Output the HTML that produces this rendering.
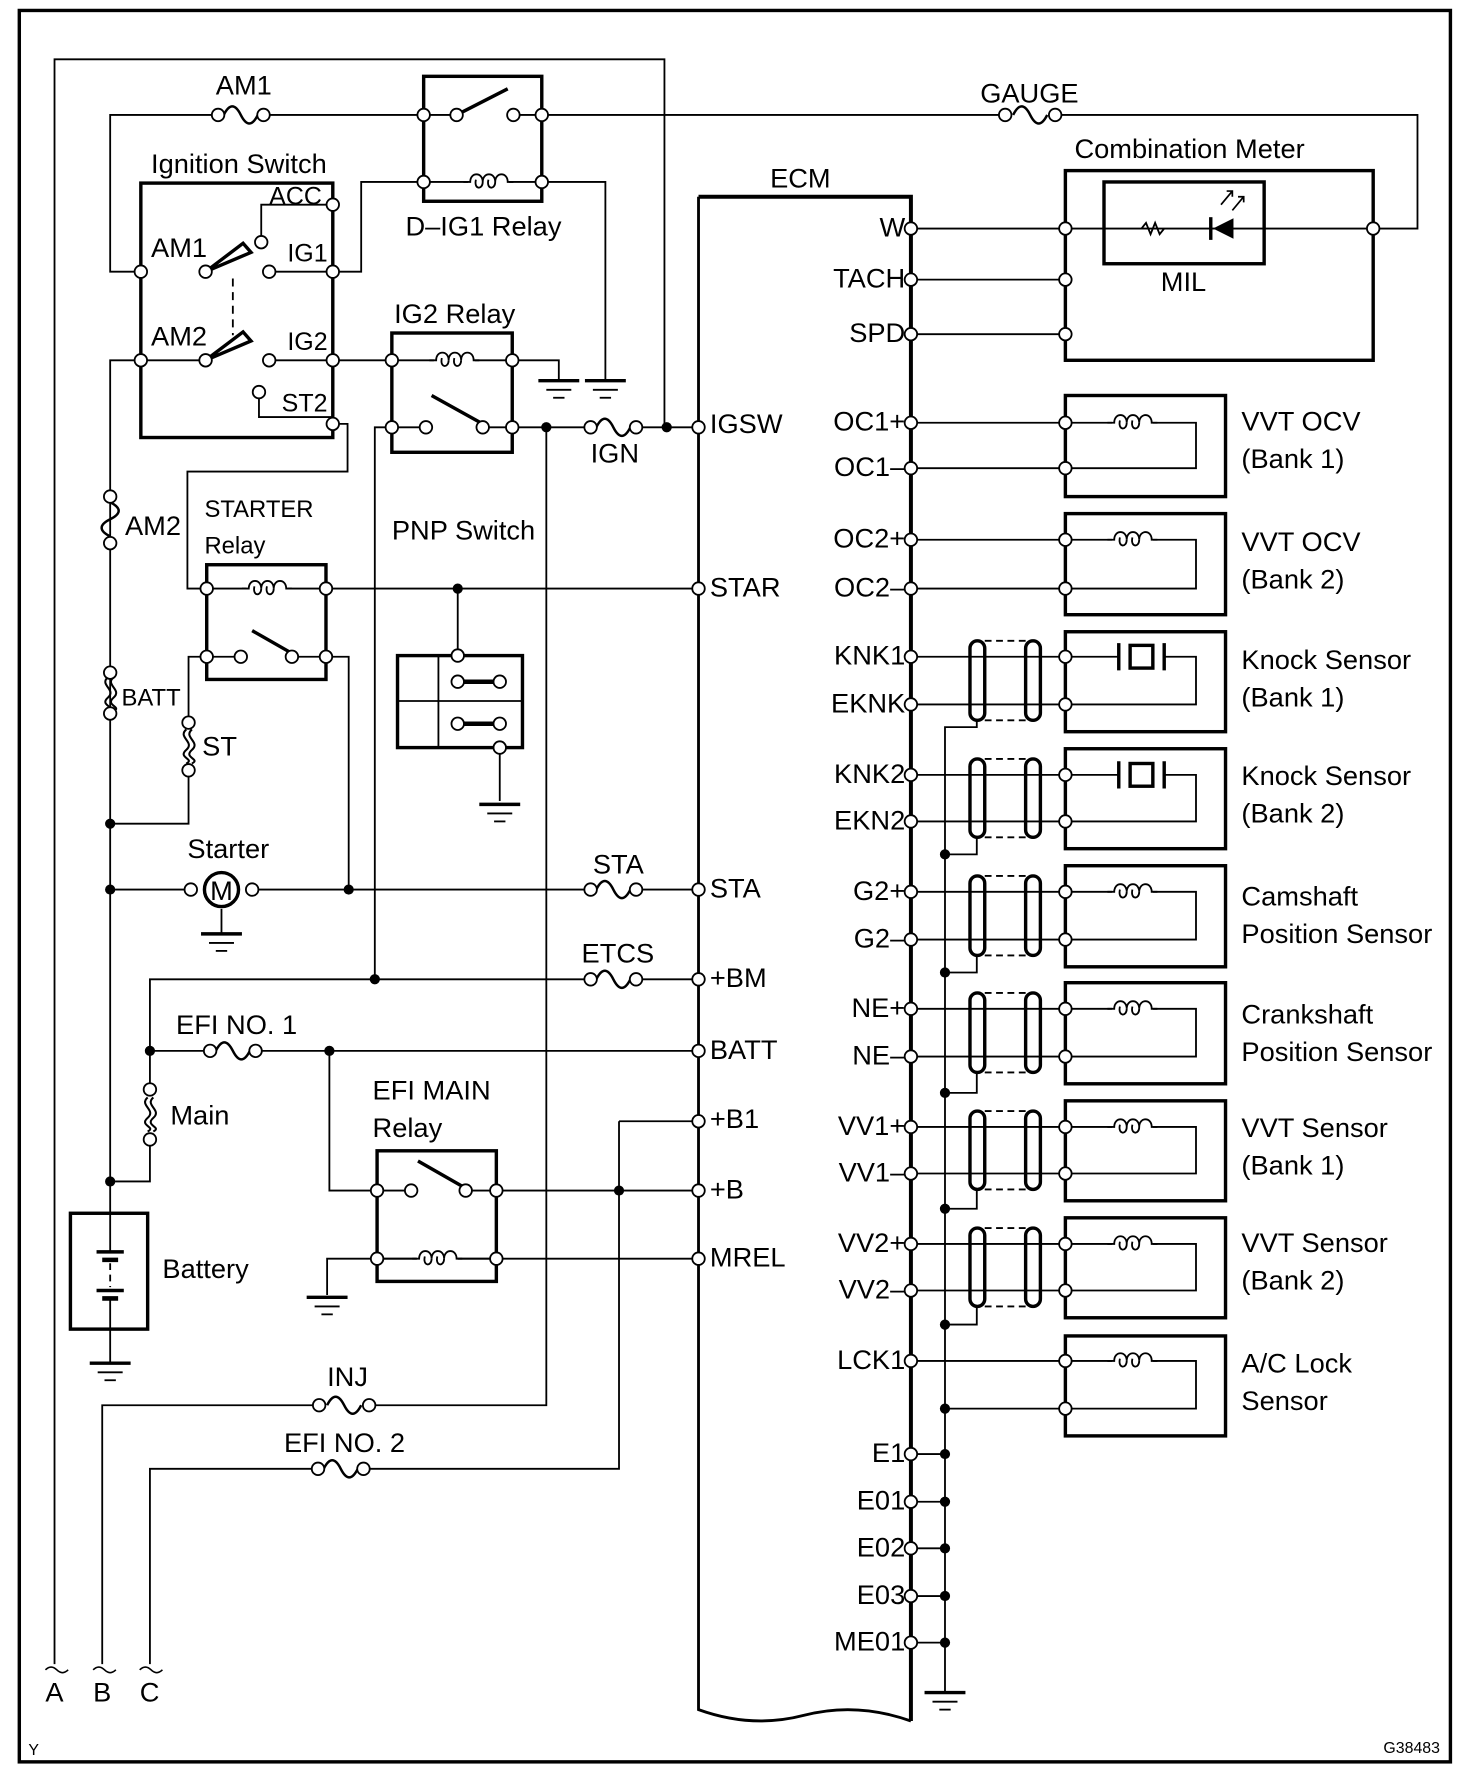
<!DOCTYPE html>
<html><head><meta charset="utf-8"><style>
html,body{margin:0;padding:0;background:#fff}
svg{display:block}
text{font-family:"Liberation Sans",sans-serif;font-size:24px;fill:#000}
</style></head><body>
<svg width="1472" height="1778" viewBox="0 0 1296 1565" xmlns="http://www.w3.org/2000/svg">
<defs>
<circle id="t" cx="0" cy="0" r="5.5" fill="#fff" stroke="#000" stroke-width="1.6"/>
<circle id="d" cx="0" cy="0" r="4.5" fill="#000"/>
<g id="fz"><path d="M-15 0 C-10 -10 -5 -10 0 0 S10 10 15 0" fill="none" stroke="#000" stroke-width="2.2"/></g>
<g id="coil" fill="#fff" stroke="#000" stroke-width="1.6"><rect x="-18" y="-7" width="36" height="13" stroke="none"/><path d="M-22 0 H-16 C-16 -9 -5 -9 -5 0 C-5 -9 6 -9 6 0 C6 -9 17 -9 17 0 H22" fill="none"/><path d="M-5 0 C-5 7 -13 7 -11 -2 M6 0 C6 7 -2 7 0 -2" fill="none"/></g>
<g id="gnd" stroke="#000"><path d="M-18 0 H18" stroke-width="3"/><path d="M-11 8 H11" stroke-width="1.6"/><path d="M-5 15 H5" stroke-width="1.6"/></g>
<g id="fl" fill="none" stroke="#000" stroke-width="1.8"><path d="M-2 -14 C-10 -7 6 -3 -2 4 S6 12 -2 16"/><path d="M3 -14 C-5 -7 11 -3 3 4 S11 12 3 16"/></g>
</defs>
<rect x="17" y="9" width="1260" height="1542" fill="none" stroke="#000" stroke-width="3"/>
<g fill="none" stroke="#000" stroke-width="1.6">
<path d="M48 1465 V52 H585 V376"/>
<path d="M124 239 H97 V101 H192 M232 101 H373"/>
<path d="M477 101 H885 M929 101 H1248 V201 H1209"/>
<path d="M373 160 H318 V239 H293 M477 160 H533 V335"/>
<path d="M230 213 V180 H293 M237 239 H293 M237 317 H345 M124 317 H181 M124 317 H97 V1040"/>
<path d="M228 345 V367 H293 M293 373 H306 V415 H165 V518 H182"/>
<path d="M345 317 H451 M451 317 H492 V335"/>
<path d="M345 376 H375 M425 376 H520 M560 376 H615"/>
<path d="M345 376 H330 V862"/>
<path d="M481 376 V1237 H325 M281 1237 H90 V1465"/>
<path d="M182 518 H615 M403 518 V577"/>
<path d="M182 578 H212 M257 578 H307 V783"/>
<path d="M182 578 H166 V632 M166 680 V725 H97"/>
<path d="M440 658 V705"/>
<path d="M97 783 H165 M225 783 H520 M560 783 H615 M195 800 V822"/>
<path d="M97 1040 H132 V1005 M132 955 V862 H520 M560 862 H615"/>
<path d="M132 925 H185 M225 925 H615 M290 925 V1048 H332"/>
<path d="M332 1048 H362 M410 1048 H615 M545 987 H615 M545 987 V1293 H320 M280 1293 H132 V1465"/>
<path d="M288 1140 V1108 H615"/>
<path d="M97 1040 V1102 M97 1143 V1200"/>
<path d="M97 1112 V1133" stroke-dasharray="6 4"/>
</g>
<g fill="none" stroke="#000" stroke-width="3">
<rect x="373" y="67" width="104" height="110"/>
<rect x="124" y="161" width="169" height="224"/>
<rect x="345" y="293" width="106" height="105"/>
<rect x="182" y="497" width="105" height="101"/>
<rect x="350" y="577" width="110" height="81"/>
<rect x="332" y="1013" width="105" height="115"/>
<rect x="62" y="1068" width="68" height="102"/>
<rect x="938" y="150" width="271" height="167"/>
<rect x="972" y="160" width="141" height="72"/>
<path d="M85 1102 H109 M85 1136 H109"/>
<path d="M90 1109 H104 M90 1143 H104" stroke-width="4"/>
<path d="M402 101 L447 78 M380 348 L425 373 M222 555 L257 575 M368 1022 L410 1046"/>
</g>
<g fill="none" stroke="#000" stroke-width="1.6">
<path d="M373 101 H402 M452 101 H477 M373 160 H477"/>
<path d="M386 577 V658 M350 617 H460"/>
<path d="M332 1108 H437"/>
<path d="M205 245 V295" stroke-dasharray="7 5"/>
</g>
<path d="M181 239 L214 214 L221 222 Z M181 317 L214 292 L221 300 Z" fill="#fff" stroke="#000" stroke-width="3"/>
<path d="M403 600 H440 M403 637 H440" stroke="#000" stroke-width="4"/>
<use href="#fz" x="212" y="101"/><use href="#fz" x="907" y="101"/><use href="#fz" x="540" y="376"/>
<use href="#fz" x="540" y="783"/><use href="#fz" x="540" y="862"/><use href="#fz" x="205" y="925"/>
<use href="#fz" x="303" y="1237"/><use href="#fz" x="300" y="1293"/>
<g transform="translate(97 457) rotate(90)"><use href="#fz"/></g>
<use href="#fl" x="97" y="610"/><use href="#fl" x="166" y="656"/><use href="#fl" x="132" y="980"/>
<use href="#coil" x="430" y="160"/><use href="#coil" x="400" y="317"/><use href="#coil" x="235" y="518"/><use href="#coil" x="385" y="1108"/>
<circle cx="195" cy="783" r="15" fill="#fff" stroke="#000" stroke-width="3"/>
<text x="185" y="792">M</text>
<use href="#gnd" x="533" y="335"/><use href="#gnd" x="492" y="335"/><use href="#gnd" x="440" y="708"/>
<use href="#gnd" x="195" y="822"/><use href="#gnd" x="288" y="1142"/><use href="#gnd" x="97" y="1200"/><use href="#gnd" x="832" y="1490"/>
<path d="M615 173 H802 V1515" fill="none" stroke="#000" stroke-width="3.5"/>
<path d="M615 173 V1505 Q662 1522 708 1510 T802 1515" fill="none" stroke="#000" stroke-width="2.5"/>
<g fill="none" stroke="#000" stroke-width="1.6">
<path d="M802 201 H1209 M802 246 H938 M802 294 H938"/>
<path d="M1005 201 l4 -5 l4 10 l4 -10 l4 10 l4 -5"/>
<path d="M802 372 H1053 V412 H802 M802 475 H1053 V518 H802"/>
<path d="M802 578 H985 M1025 578 H1053 V620 H802 M802 682 H985 M1025 682 H1053 V723 H802"/>
<path d="M802 785 H1053 V827 H802 M802 888 H1053 V930 H802 M802 992 H1053 V1033 H802 M802 1095 H1053 V1136 H802"/>
<path d="M802 1198 H1053 V1240 H832"/>
<path d="M860 634 V640 H832 V1490 M860 737 V752 H832 M860 841 V856 H832 M860 944 V962 H832 M860 1047 V1064 H832 M860 1150 V1166 H832"/>
<path d="M802 1280 H832 M802 1322 H832 M802 1363 H832 M802 1405 H832 M802 1446 H832"/>
</g>
<path d="M1068 201 L1086 192 V210 Z" fill="#000"/><path d="M1066 191 V211" stroke="#000" stroke-width="3"/>
<path d="M1075 180 l10 -12 M1085 185 l10 -12" stroke="#000" stroke-width="1.5"/>
<path d="M1080 168 l5 0 l0 5 M1090 173 l5 0 l0 5" stroke="#000" stroke-width="1.5" fill="none"/>
<g fill="none" stroke="#000" stroke-width="3">
<rect x="938" y="348" width="141" height="89"/><rect x="938" y="452" width="141" height="89"/>
<rect x="938" y="556" width="141" height="88"/><rect x="938" y="659" width="141" height="88"/>
<rect x="938" y="762" width="141" height="89"/><rect x="938" y="865" width="141" height="89"/>
<rect x="938" y="969" width="141" height="88"/><rect x="938" y="1072" width="141" height="88"/>
<rect x="938" y="1176" width="141" height="88"/>
<path d="M985 566 V590 M1025 566 V590 M985 670 V694 M1025 670 V694"/>
<rect x="995" y="568" width="20" height="20"/><rect x="995" y="672" width="20" height="20"/>
</g>
<use href="#coil" x="997" y="372"/><use href="#coil" x="997" y="475"/><use href="#coil" x="997" y="785"/><use href="#coil" x="997" y="888"/>
<use href="#coil" x="997" y="992"/><use href="#coil" x="997" y="1095"/><use href="#coil" x="997" y="1198"/>
<g fill="none" stroke="#000">
<g stroke-width="3">
<rect x="854" y="564" width="13" height="70" rx="6.5"/><rect x="903" y="564" width="13" height="70" rx="6.5"/>
<rect x="854" y="668" width="13" height="69" rx="6.5"/><rect x="903" y="668" width="13" height="69" rx="6.5"/>
<rect x="854" y="771" width="13" height="70" rx="6.5"/><rect x="903" y="771" width="13" height="70" rx="6.5"/>
<rect x="854" y="874" width="13" height="70" rx="6.5"/><rect x="903" y="874" width="13" height="70" rx="6.5"/>
<rect x="854" y="978" width="13" height="69" rx="6.5"/><rect x="903" y="978" width="13" height="69" rx="6.5"/>
<rect x="854" y="1081" width="13" height="69" rx="6.5"/><rect x="903" y="1081" width="13" height="69" rx="6.5"/>
</g>
<g stroke-width="1.6" stroke-dasharray="6 4">
<path d="M867 564 H903 M867 634 H903 M867 668 H903 M867 737 H903 M867 771 H903 M867 841 H903 M867 874 H903 M867 944 H903 M867 978 H903 M867 1047 H903 M867 1081 H903 M867 1150 H903"/>
</g>
</g>
<g>
<use href="#t" x="192" y="101"/><use href="#t" x="232" y="101"/><use href="#t" x="885" y="101"/><use href="#t" x="929" y="101"/>
<use href="#t" x="373" y="101"/><use href="#t" x="402" y="101"/><use href="#t" x="452" y="101"/><use href="#t" x="477" y="101"/>
<use href="#t" x="373" y="160"/><use href="#t" x="477" y="160"/>
<use href="#t" x="293" y="180"/><use href="#t" x="230" y="213"/><use href="#t" x="124" y="239"/><use href="#t" x="181" y="239"/><use href="#t" x="237" y="239"/><use href="#t" x="293" y="239"/>
<use href="#t" x="124" y="317"/><use href="#t" x="181" y="317"/><use href="#t" x="237" y="317"/><use href="#t" x="293" y="317"/>
<use href="#t" x="228" y="345"/><use href="#t" x="293" y="373"/>
<use href="#t" x="345" y="317"/><use href="#t" x="451" y="317"/><use href="#t" x="345" y="376"/><use href="#t" x="375" y="376"/><use href="#t" x="425" y="376"/><use href="#t" x="451" y="376"/>
<use href="#t" x="520" y="376"/><use href="#t" x="560" y="376"/>
<use href="#t" x="97" y="437"/><use href="#t" x="97" y="478"/><use href="#t" x="97" y="592"/><use href="#t" x="97" y="628"/>
<use href="#t" x="166" y="636"/><use href="#t" x="166" y="678"/><use href="#t" x="132" y="959"/><use href="#t" x="132" y="1003"/>
<use href="#t" x="182" y="518"/><use href="#t" x="287" y="518"/><use href="#t" x="182" y="578"/><use href="#t" x="212" y="578"/><use href="#t" x="257" y="578"/><use href="#t" x="287" y="578"/>
<use href="#t" x="403" y="577"/><use href="#t" x="403" y="600"/><use href="#t" x="440" y="600"/><use href="#t" x="403" y="637"/><use href="#t" x="440" y="637"/><use href="#t" x="440" y="658"/>
<use href="#t" x="168" y="783"/><use href="#t" x="222" y="783"/><use href="#t" x="520" y="783"/><use href="#t" x="560" y="783"/>
<use href="#t" x="520" y="862"/><use href="#t" x="560" y="862"/><use href="#t" x="185" y="925"/><use href="#t" x="225" y="925"/>
<use href="#t" x="332" y="1048"/><use href="#t" x="362" y="1048"/><use href="#t" x="410" y="1048"/><use href="#t" x="437" y="1048"/>
<use href="#t" x="332" y="1108"/><use href="#t" x="437" y="1108"/>
<use href="#t" x="281" y="1237"/><use href="#t" x="325" y="1237"/><use href="#t" x="280" y="1293"/><use href="#t" x="320" y="1293"/>
<use href="#t" x="615" y="376"/><use href="#t" x="615" y="518"/><use href="#t" x="615" y="783"/><use href="#t" x="615" y="862"/><use href="#t" x="615" y="925"/><use href="#t" x="615" y="987"/><use href="#t" x="615" y="1048"/><use href="#t" x="615" y="1108"/>
<use href="#t" x="802" y="201"/><use href="#t" x="802" y="246"/><use href="#t" x="802" y="294"/>
<use href="#t" x="938" y="201"/><use href="#t" x="938" y="246"/><use href="#t" x="938" y="294"/><use href="#t" x="1209" y="201"/>
<use href="#t" x="802" y="372"/><use href="#t" x="802" y="412"/><use href="#t" x="802" y="475"/><use href="#t" x="802" y="518"/>
<use href="#t" x="802" y="578"/><use href="#t" x="802" y="620"/><use href="#t" x="802" y="682"/><use href="#t" x="802" y="723"/>
<use href="#t" x="802" y="785"/><use href="#t" x="802" y="827"/><use href="#t" x="802" y="888"/><use href="#t" x="802" y="930"/>
<use href="#t" x="802" y="992"/><use href="#t" x="802" y="1033"/><use href="#t" x="802" y="1095"/><use href="#t" x="802" y="1136"/>
<use href="#t" x="802" y="1198"/><use href="#t" x="802" y="1280"/><use href="#t" x="802" y="1322"/><use href="#t" x="802" y="1363"/><use href="#t" x="802" y="1405"/><use href="#t" x="802" y="1446"/>
<use href="#t" x="938" y="372"/><use href="#t" x="938" y="412"/><use href="#t" x="938" y="475"/><use href="#t" x="938" y="518"/>
<use href="#t" x="938" y="578"/><use href="#t" x="938" y="620"/><use href="#t" x="938" y="682"/><use href="#t" x="938" y="723"/>
<use href="#t" x="938" y="785"/><use href="#t" x="938" y="827"/><use href="#t" x="938" y="888"/><use href="#t" x="938" y="930"/>
<use href="#t" x="938" y="992"/><use href="#t" x="938" y="1033"/><use href="#t" x="938" y="1095"/><use href="#t" x="938" y="1136"/>
<use href="#t" x="938" y="1198"/><use href="#t" x="938" y="1240"/>
</g>
<g>
<use href="#d" x="587" y="376"/><use href="#d" x="481" y="376"/><use href="#d" x="403" y="518"/><use href="#d" x="97" y="725"/><use href="#d" x="97" y="783"/><use href="#d" x="307" y="783"/>
<use href="#d" x="330" y="862"/><use href="#d" x="132" y="925"/><use href="#d" x="290" y="925"/><use href="#d" x="97" y="1040"/><use href="#d" x="545" y="1048"/>
<use href="#d" x="832" y="752"/><use href="#d" x="832" y="856"/><use href="#d" x="832" y="962"/><use href="#d" x="832" y="1064"/><use href="#d" x="832" y="1166"/><use href="#d" x="832" y="1240"/>
<use href="#d" x="832" y="1280"/><use href="#d" x="832" y="1322"/><use href="#d" x="832" y="1363"/><use href="#d" x="832" y="1405"/><use href="#d" x="832" y="1446"/>
</g>
<text x="190" y="83">AM1</text>
<text x="133" y="152">Ignition Switch</text>
<text x="237" y="180" style="font-size:22px">ACC</text>
<text x="133" y="226">AM1</text>
<text x="253" y="230" style="font-size:22px">IG1</text>
<text x="133" y="304">AM2</text>
<text x="253" y="308" style="font-size:22px">IG2</text>
<text x="248" y="362" style="font-size:22px">ST2</text>
<text x="357" y="207">D–IG1 Relay</text>
<text x="347" y="284">IG2 Relay</text>
<text x="520" y="407">IGN</text>
<text x="625" y="381">IGSW</text>
<text x="110" y="471">AM2</text>
<text x="180" y="455" style="font-size:21px">STARTER</text>
<text x="180" y="487" style="font-size:21px">Relay</text>
<text x="345" y="475">PNP Switch</text>
<text x="625" y="525">STAR</text>
<text x="107" y="621" style="font-size:21px">BATT</text>
<text x="178" y="665">ST</text>
<text x="165" y="755">Starter</text>
<text x="522" y="769">STA</text>
<text x="625" y="790">STA</text>
<text x="512" y="847">ETCS</text>
<text x="625" y="869">+BM</text>
<text x="155" y="910">EFI NO. 1</text>
<text x="625" y="932">BATT</text>
<text x="150" y="990">Main</text>
<text x="328" y="968">EFI MAIN</text>
<text x="328" y="1001">Relay</text>
<text x="625" y="993">+B1</text>
<text x="625" y="1055">+B</text>
<text x="143" y="1125">Battery</text>
<text x="625" y="1115">MREL</text>
<text x="288" y="1220">INJ</text>
<text x="250" y="1278">EFI NO. 2</text>
<text x="40" y="1498">A</text><text x="82" y="1498">B</text><text x="123" y="1498">C</text>
<path d="M40 1470 q5 -5 10 0 q5 5 10 0 M82 1470 q5 -5 10 0 q5 5 10 0 M123 1470 q5 -5 10 0 q5 5 10 0" fill="none" stroke="#000" stroke-width="1.4"/>
<text x="25" y="1545" style="font-size:14px">Y</text>
<text x="1218" y="1543" style="font-size:14px">G38483</text>
<text x="678" y="165">ECM</text>
<text x="863" y="90">GAUGE</text>
<text x="946" y="139">Combination Meter</text>
<text x="1022" y="256">MIL</text>
<g text-anchor="end">
<text x="797" y="208">W</text><text x="797" y="253">TACH</text><text x="797" y="301">SPD</text>
<text x="797" y="379">OC1+</text><text x="797" y="419">OC1–</text><text x="797" y="482">OC2+</text><text x="797" y="525">OC2–</text>
<text x="797" y="585">KNK1</text><text x="797" y="627">EKNK</text><text x="797" y="689">KNK2</text><text x="797" y="730">EKN2</text>
<text x="797" y="792">G2+</text><text x="797" y="834">G2–</text><text x="797" y="895">NE+</text><text x="797" y="937">NE–</text>
<text x="797" y="999">VV1+</text><text x="797" y="1040">VV1–</text><text x="797" y="1102">VV2+</text><text x="797" y="1143">VV2–</text>
<text x="797" y="1205">LCK1</text><text x="797" y="1287">E1</text><text x="797" y="1329">E01</text><text x="797" y="1370">E02</text><text x="797" y="1412">E03</text><text x="797" y="1453">ME01</text>
</g>
<text x="1093" y="379">VVT OCV</text><text x="1093" y="412">(Bank 1)</text>
<text x="1093" y="485">VVT OCV</text><text x="1093" y="518">(Bank 2)</text>
<text x="1093" y="589">Knock Sensor</text><text x="1093" y="622">(Bank 1)</text>
<text x="1093" y="691">Knock Sensor</text><text x="1093" y="724">(Bank 2)</text>
<text x="1093" y="797">Camshaft</text><text x="1093" y="830">Position Sensor</text>
<text x="1093" y="901">Crankshaft</text><text x="1093" y="934">Position Sensor</text>
<text x="1093" y="1001">VVT Sensor</text><text x="1093" y="1034">(Bank 1)</text>
<text x="1093" y="1102">VVT Sensor</text><text x="1093" y="1135">(Bank 2)</text>
<text x="1093" y="1208">A/C Lock</text><text x="1093" y="1241">Sensor</text>
</svg>
</body></html>
